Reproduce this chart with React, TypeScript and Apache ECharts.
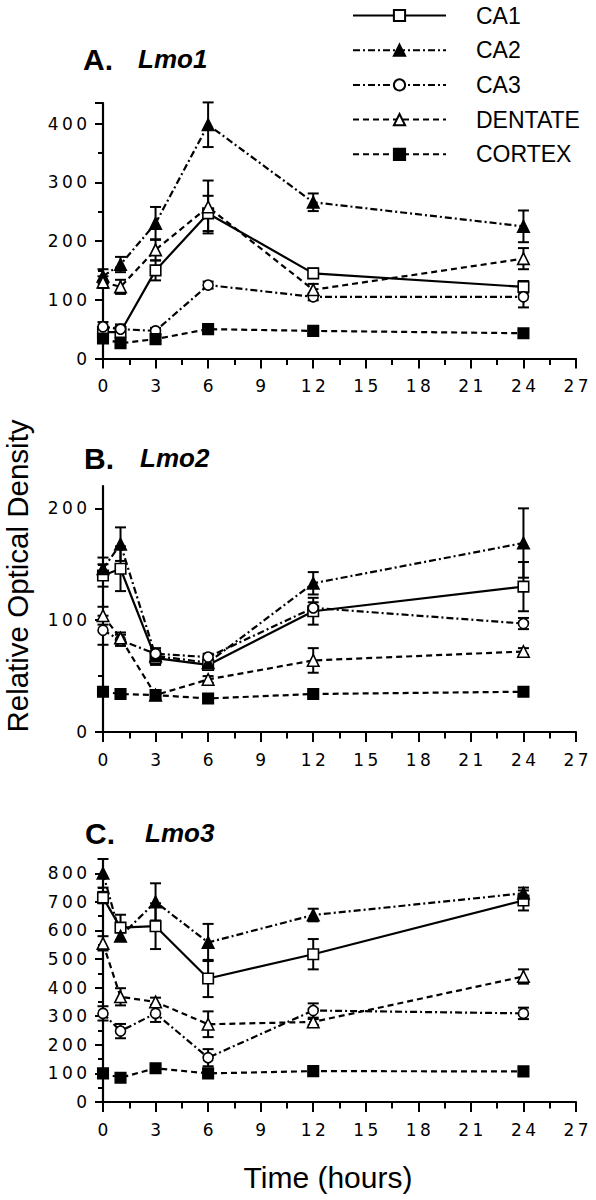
import React, { useEffect, useRef } from "react";
import * as echarts from "echarts";

// ---- data ----
const TIMES = [0, 1, 3, 6, 12, 24];
const GROUPS = ["CA1", "CA2", "CA3", "DENTATE", "CORTEX"];
const X_TICKS = [0, 3, 6, 9, 12, 15, 18, 21, 24, 27];

// Panel A: Lmo1
const A_CA1 = [45, 45, 150, 247, 145, 122];
const A_CA1_ERR = [8, 10, 17, 30, 8, 10];
const A_CA2 = [140, 160, 230, 398, 266, 225];
const A_CA2_ERR = [12, 13, 28, 38, 15, 27];
const A_CA3 = [54, 50, 47, 125, 105, 105];
const A_CA3_ERR = [8, 8, 5, 6, 6, 18];
const A_DEN = [130, 122, 185, 258, 117, 170];
const A_DEN_ERR = [10, 12, 18, 45, 10, 18];
const A_CTX = [34, 26, 33, 50, 47, 43];
const A_CTX_ERR = [5, 5, 4, 4, 4, 4];

// Panel B: Lmo2
const B_CA1 = [140, 146, 66, 60, 108, 130];
const B_CA1_ERR = [10, 20, 6, 4, 12, 22];
const B_CA2 = [146, 168, 68, 62, 133, 169];
const B_CA2_ERR = [10, 15, 5, 4, 10, 31];
const B_CA3 = [91, 82, 70, 67, 111, 97];
const B_CA3_ERR = [13, 5, 5, 3, 5, 5];
const B_DEN = [104, 84, 33, 47, 64, 72];
const B_DEN_ERR = [8, 5, 3, 3, 11, 3];
const B_CTX = [36, 34, 33, 30, 34, 36];
const B_CTX_ERR = [3, 3, 3, 3, 3, 3];

// Panel C: Lmo3
const C_CA1 = [715, 610, 615, 432, 517, 705];
const C_CA1_ERR = [20, 45, 80, 65, 53, 35];
const C_CA2 = [800, 580, 700, 558, 654, 730];
const C_CA2_ERR = [50, 15, 65, 65, 22, 20];
const C_CA3 = [310, 248, 310, 155, 320, 310];
const C_CA3_ERR = [25, 25, 30, 30, 25, 20];
const C_DEN = [555, 368, 350, 272, 280, 439];
const C_DEN_ERR = [25, 30, 15, 45, 10, 25];
const C_CTX = [100, 85, 118, 100, 108, 107];
const C_CTX_ERR = [5, 5, 5, 5, 5, 5];

const A_MAJOR = [0, 100, 200, 300, 400, 435];
const A_MINOR = [50, 150, 250, 350];
const B_MAJOR = [0, 100, 200];
const B_MINOR = [50, 150];
const C_MAJOR = [0, 100, 200, 300, 400, 500, 600, 700, 800];
const C_MINOR = [50, 150, 250, 350, 450, 550, 650, 750, 850];

const PANEL_DATA = [
  { letter: "A.", gene: "Lmo1", max: 435, major: A_MAJOR, minor: A_MINOR,
    vals: [A_CA1, A_CA2, A_CA3, A_DEN, A_CTX], errs: [A_CA1_ERR, A_CA2_ERR, A_CA3_ERR, A_DEN_ERR, A_CTX_ERR] },
  { letter: "B.", gene: "Lmo2", max: 220, major: B_MAJOR, minor: B_MINOR,
    vals: [B_CA1, B_CA2, B_CA3, B_DEN, B_CTX], errs: [B_CA1_ERR, B_CA2_ERR, B_CA3_ERR, B_DEN_ERR, B_CTX_ERR] },
  { letter: "C.", gene: "Lmo3", max: 850, major: C_MAJOR, minor: C_MINOR,
    vals: [C_CA1, C_CA2, C_CA3, C_DEN, C_CTX], errs: [C_CA1_ERR, C_CA2_ERR, C_CA3_ERR, C_DEN_ERR, C_CTX_ERR] },
];

// ---- layout / style ----
const FONT = "'Liberation Sans', Arial, Helvetica, sans-serif";
const TICK_FONT = "'DejaVu Sans', Verdana, sans-serif";
const LEGEND_FONT = "'Liberation Sans Narrow', 'Arial Narrow', 'Liberation Sans', Arial, sans-serif";
const GRIDS = [
  { top: 103, height: 255.5 },
  { top: 486, height: 246 },
  { top: 859, height: 243 },
];
const GRID_LEFT = 103;
const GRID_WIDTH = 473;
const TITLE_POS = [
  { lx: 83, ly: 44, gx: 138, gy: 46 },
  { lx: 84, ly: 443, gx: 140, gy: 445 },
  { lx: 85, ly: 818, gx: 145, gy: 820 },
];

const STYLES: any = {
  CA1: { symbol: "rect", size: 10.5, fill: "#fff", line: "solid" },
  CA2: { symbol: "triangle", size: 11.5, fill: "#000", line: [7, 3, 2, 3] },
  CA3: { symbol: "circle", size: 10, fill: "#fff", line: [7, 3, 2, 3] },
  DENTATE: { symbol: "triangle", size: 11.5, fill: "#fff", line: [6, 4] },
  CORTEX: { symbol: "rect", size: 10.5, fill: "#000", line: [6, 4] },
};

const spaced = (v: number) => String(Math.round(v)).split("").join("\u2009");

function buildOption() {
  const grid: any[] = [];
  const xAxis: any[] = [];
  const yAxis: any[] = [];
  const series: any[] = [];
  const graphic: any[] = [];

  PANEL_DATA.forEach((p, pi) => {
    const g = GRIDS[pi];
    grid.push({ left: GRID_LEFT, top: g.top, width: GRID_WIDTH, height: g.height, containLabel: false });
    const axisBase = {
      gridIndex: pi,
      type: "value",
      splitLine: { show: false },
    };
    xAxis.push({
      ...axisBase,
      position: "bottom",
      min: 0,
      max: 27,
      interval: 3,
      axisLine: { show: true, onZero: false, lineStyle: { color: "#000", width: 2.2 } },
      axisTick: { show: true, length: 10, lineStyle: { color: "#000", width: 2 } },
      axisLabel: {
        show: true,
        margin: 19,
        color: "#000",
        fontFamily: TICK_FONT,
        fontSize: 17,
        formatter: (v: number) => spaced(v),
        customValues: X_TICKS,
      },
    });
    xAxis.push({
      ...axisBase,
      position: "bottom",
      min: 0,
      max: 27,
      interval: 1.5,
      axisLine: { show: false, onZero: false },
      axisTick: { show: true, length: 6.5, lineStyle: { color: "#000", width: 2 } },
      axisLabel: { show: false },
    });
    yAxis.push({
      ...axisBase,
      position: "left",
      min: 0,
      max: p.max,
      interval: 100,
      axisLine: { show: true, onZero: false, lineStyle: { color: "#000", width: 2.2 } },
      axisTick: { show: true, length: 8, lineStyle: { color: "#000", width: 2 }, customValues: p.major },
      axisLabel: {
        show: true,
        margin: 16,
        color: "#000",
        fontFamily: TICK_FONT,
        fontSize: 17,
        formatter: (v: number) => (v % 100 === 0 ? spaced(v) : ""),
        customValues: p.major.filter((v) => v % 100 === 0),
      },
    });
    yAxis.push({
      ...axisBase,
      position: "left",
      min: 0,
      max: p.max,
      interval: 50,
      axisLine: { show: false, onZero: false },
      axisTick: { show: true, length: 5, lineStyle: { color: "#000", width: 2 }, customValues: p.minor },
      axisLabel: { show: false },
    });

    const xi = pi * 2;
    const yi = pi * 2;

    GROUPS.forEach((name, gi) => {
      const st = STYLES[name];
      const vals = p.vals[gi];
      const errs = p.errs[gi];
      series.push({
        type: "custom",
        xAxisIndex: xi,
        yAxisIndex: yi,
        z: 1,
        silent: true,
        clip: false,
        data: TIMES.map((t, i) => [t, vals[i] - errs[i], vals[i] + errs[i]]),
        encode: { x: 0, y: [1, 2] },
        renderItem: (params: any, api: any) => {
          const x = api.value(0);
          const lo = api.value(1);
          const hi = api.value(2);
          const a = api.coord([x, hi]);
          const b = api.coord([x, lo]);
          const w = 5.5;
          const s = { stroke: "#000", lineWidth: 2 };
          return {
            type: "group",
            children: [
              { type: "line", shape: { x1: a[0], y1: a[1], x2: b[0], y2: b[1] }, style: s },
              { type: "line", shape: { x1: a[0] - w, y1: a[1], x2: a[0] + w, y2: a[1] }, style: s },
              { type: "line", shape: { x1: b[0] - w, y1: b[1], x2: b[0] + w, y2: b[1] }, style: s },
            ],
          };
        },
      });
      series.push({
        name,
        type: "line",
        xAxisIndex: xi,
        yAxisIndex: yi,
        z: 2,
        clip: false,
        data: TIMES.map((t, i) => [t, vals[i]]),
        symbol: st.symbol,
        symbolSize: st.size,
        showAllSymbol: true,
        lineStyle: { color: "#000", width: 2.2, type: st.line },
        itemStyle: { color: st.fill, borderColor: "#000", borderWidth: 1.6 },
        emphasis: { disabled: true },
      });
    });

    const tp = TITLE_POS[pi];
    graphic.push({
      type: "text",
      left: tp.lx,
      top: tp.ly,
      style: { text: p.letter, font: `bold 30px ${FONT}`, fill: "#000" },
    });
    graphic.push({
      type: "text",
      left: tp.gx,
      top: tp.gy,
      style: { text: p.gene, font: `italic bold 26px ${FONT}`, fill: "#000" },
    });
  });

  graphic.push({
    type: "text",
    x: 17,
    y: 576,
    rotation: Math.PI / 2,
    style: {
      text: "Relative Optical Density",
      font: `29.5px ${FONT}`,
      fill: "#000",
      align: "center",
      verticalAlign: "middle",
    },
  });
  graphic.push({
    type: "text",
    x: 328,
    y: 1177,
    style: {
      text: "Time (hours)",
      font: `30px ${FONT}`,
      fill: "#000",
      align: "center",
      verticalAlign: "middle",
    },
  });

  return {
    animation: false,
    backgroundColor: "#fff",
    grid,
    xAxis,
    yAxis,
    series,
    graphic,
    legend: {
      data: GROUPS,
      orient: "vertical",
      left: 347,
      top: -1,
      itemWidth: 93,
      itemHeight: 14,
      itemGap: 11.7,
      selectedMode: false,
      textStyle: { fontFamily: LEGEND_FONT, fontSize: 23, color: "#000", padding: [0, 0, 0, 25] },
    },
  };
}

export default function App() {
  const ref = useRef<HTMLDivElement>(null);
  useEffect(() => {
    if (!ref.current) return;
    const chart = echarts.init(ref.current, undefined, { renderer: "svg" });
    chart.setOption(buildOption() as any);
    return () => chart.dispose();
  }, []);
  return (
    <div
      ref={ref}
      style={{ position: "absolute", left: 0, top: 0, width: 596, height: 1200, background: "#fff" }}
    />
  );
}
